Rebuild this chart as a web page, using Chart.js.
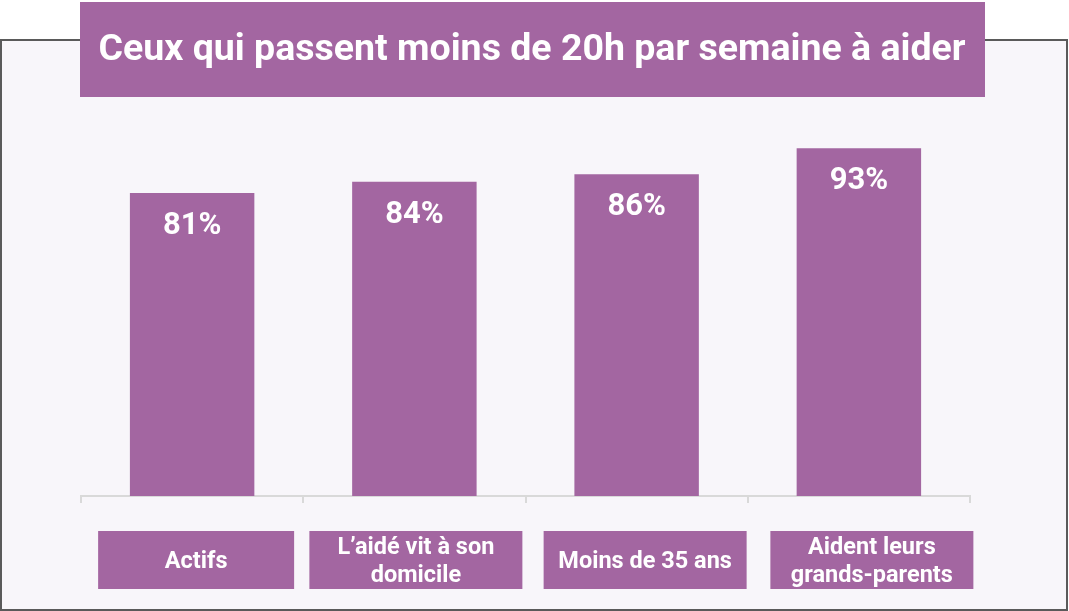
<!DOCTYPE html>
<html>
<head>
<meta charset="utf-8">
<script src="https://cdn.jsdelivr.net/npm/chart.js@4.4.0/dist/chart.umd.min.js"></script>
<style>
html,body{margin:0;padding:0;background:#ffffff;}
#wrap{width:1069px;height:611px;}
</style>
</head>
<body>
<div id="wrap"><canvas id="c" width="1069" height="611"></canvas></div>
<script>
const title = "Ceux qui passent moins de 20h par semaine à aider";
const categories = [["Actifs"], ["L’aidé vit à son", "domicile"], ["Moins de 35 ans"], ["Aident leurs", "grands-parents"]];
const values = [81, 84, 86, 93];
const valueLabels = ["81%", "84%", "86%", "93%"];

const PURPLE = "#a366a1";
const FONT = "Roboto, 'Noto Sans', sans-serif";

const framePlugin = {
  id: "frame",
  beforeDraw(chart) {
    const ctx = chart.ctx;
    ctx.save();
    ctx.fillStyle = "#ffffff";
    ctx.fillRect(0, 0, chart.width, chart.height);
    ctx.fillStyle = "#f8f6fa";
    ctx.fillRect(2, 41, 1064, 568);
    ctx.strokeStyle = "#5a5a5a";
    ctx.lineWidth = 2;
    ctx.strokeRect(1, 40, 1066, 570);
    ctx.restore();
  },
  afterDraw(chart) {
    const ctx = chart.ctx;
    ctx.save();
    // title box
    ctx.fillStyle = PURPLE;
    ctx.fillRect(80, 2, 905, 95);
    ctx.fillStyle = "#ffffff";
    ctx.font = "bold 37.5px " + FONT;
    ctx.textAlign = "center";
    ctx.textBaseline = "middle";
    ctx.fillText(title, 532, 51);

    // value labels
    const meta = chart.getDatasetMeta(0);
    ctx.font = "bold 31px " + FONT;
    meta.data.forEach((bar, i) => {
      ctx.fillText(valueLabels[i], bar.x, bar.y + 33);
    });

    // category boxes
    const xs = chart.scales.x;
    const boxShift = [4, 1.5, 8.5, 13];
    const boxW = [196, 213, 203, 203];
    ctx.font = "bold 23.5px " + FONT;
    categories.forEach((lines, i) => {
      const cx = xs.getPixelForValue(i) + boxShift[i];
      const w = boxW[i];
      ctx.fillStyle = PURPLE;
      ctx.fillRect(cx - w / 2, 531, w, 58);
      ctx.fillStyle = "#ffffff";
      const lh = 28;
      const y0 = 562.5 - (lines.length - 1) * lh / 2;
      lines.forEach((t, j) => ctx.fillText(t, cx, y0 + j * lh));
    });
    ctx.restore();
  }
};

new Chart(document.getElementById("c"), {
  type: "bar",
  data: {
    labels: categories,
    datasets: [{
      data: values,
      backgroundColor: PURPLE,
      borderWidth: 0,
      categoryPercentage: 0.56,
      barPercentage: 1.0
    }]
  },
  options: {
    responsive: false,
    animation: false,
    devicePixelRatio: 1,
    layout: { padding: { left: 81, right: 99, top: 122, bottom: 108 } },
    plugins: { legend: { display: false }, tooltip: { enabled: false }, title: { display: false } },
    scales: {
      x: {
        grid: { offset: true, drawOnChartArea: false, drawTicks: true, tickLength: 7, color: "#d9d9d9", lineWidth: 2 },
        border: { display: true, color: "#d9d9d9", width: 2 },
        ticks: { display: false }
      },
      y: { display: false, min: 0, max: 100 }
    }
  },
  plugins: [framePlugin]
});
</script>
</body>
</html>
